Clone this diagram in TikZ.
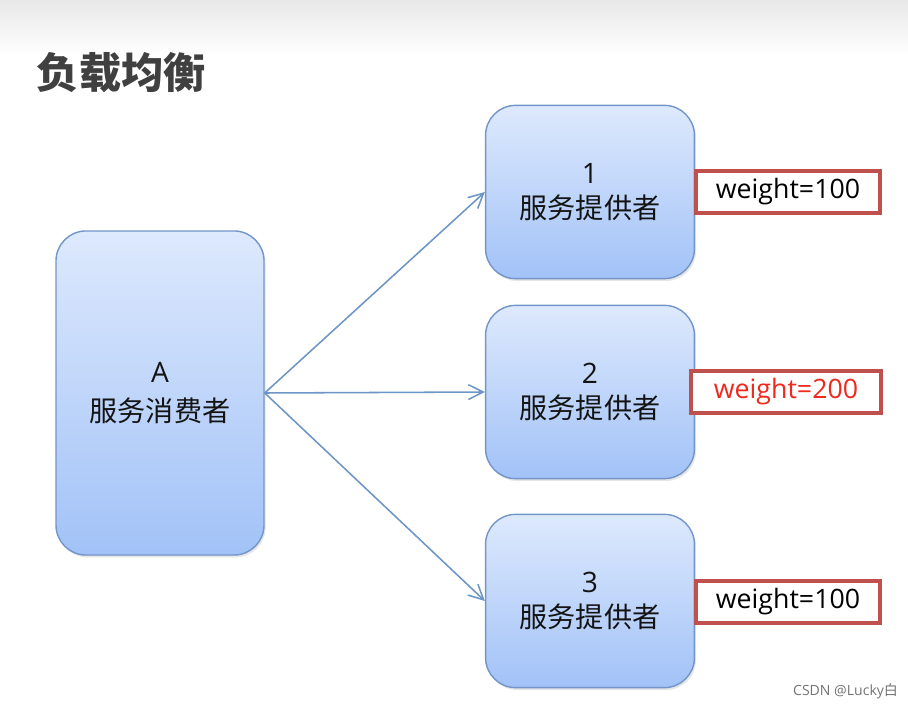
\documentclass[tikz,border=0pt]{standalone}
\usepackage{fontspec}
\setmainfont{Open Sans}
\newfontfamily\cjk{Noto Sans CJK SC}
\usetikzlibrary{arrows.meta,shadows}
\definecolor{boxline}{HTML}{7396C8}
\definecolor{boxtop}{HTML}{DDE9FD}
\definecolor{boxbot}{HTML}{A2C2F7}
\definecolor{arrowblue}{HTML}{6D95C6}
\definecolor{weightred}{HTML}{C0504D}
\definecolor{titlegray}{HTML}{404040}

\begin{document}
\begin{tikzpicture}[x=0.025cm,y=-0.025cm,
  svcbox/.style={draw=boxline,line width=1pt,rounded corners=0.75cm,top color=boxtop,bottom color=boxbot,
    align=center,text=black!92,font=\fontsize{20}{25}\selectfont,
    drop shadow={opacity=0.2,shadow xshift=0.04cm,shadow yshift=-0.06cm}},
  weightbox/.style={draw=weightred,line width=2.8pt,fill=white,minimum width=4.6cm,minimum height=1.05cm,
    font=\fontsize{19}{22}\selectfont},
  link/.style={draw=arrowblue,line width=1.1pt,-{Straight Barb[length=3.7mm,width=3.7mm]}}]
  \useasboundingbox (0,0) rectangle (908,707);
  \shade[top color=black!9,bottom color=white] (0,0) rectangle (908,55);
  \node[anchor=west,text=titlegray,font=\cjk\bfseries\fontsize{30}{30}\selectfont] (title) at (32,73) {负载均衡};
  % consumer and providers
  \node[svcbox,minimum width=5.2cm,minimum height=8.1cm,font=\fontsize{20}{28}\selectfont] (cons) at (160,393) {A\\{\cjk 服务消费者}};
  \node[svcbox,minimum width=5.22cm,minimum height=4.33cm] (prov1) at (590,192) {1\\{\cjk 服务提供者}};
  \node[svcbox,minimum width=5.22cm,minimum height=4.33cm] (prov2) at (590,392) {2\\{\cjk 服务提供者}};
  \node[svcbox,minimum width=5.22cm,minimum height=4.33cm] (prov3) at (590,601) {3\\{\cjk 服务提供者}};
  % weights
  \node[weightbox] (w1) at (788,192) {weight=100};
  \node[weightbox,minimum width=4.75cm,text={rgb,255:red,240;green,40;blue,30}] (w2) at (786,392) {weight=200};
  \node[weightbox] (w3) at (788,602) {weight=100};
  \draw[link] (cons.east) -- (prov1.west);
  \draw[link] (cons.east) -- (prov2.west);
  \draw[link] (cons.east) -- (prov3.west);
  \node[anchor=east,text=black!55,font=\fontsize{10}{12}\selectfont] (mark) at (903,691) {CSDN @Lucky{\cjk 白}};
\end{tikzpicture}
\end{document}
